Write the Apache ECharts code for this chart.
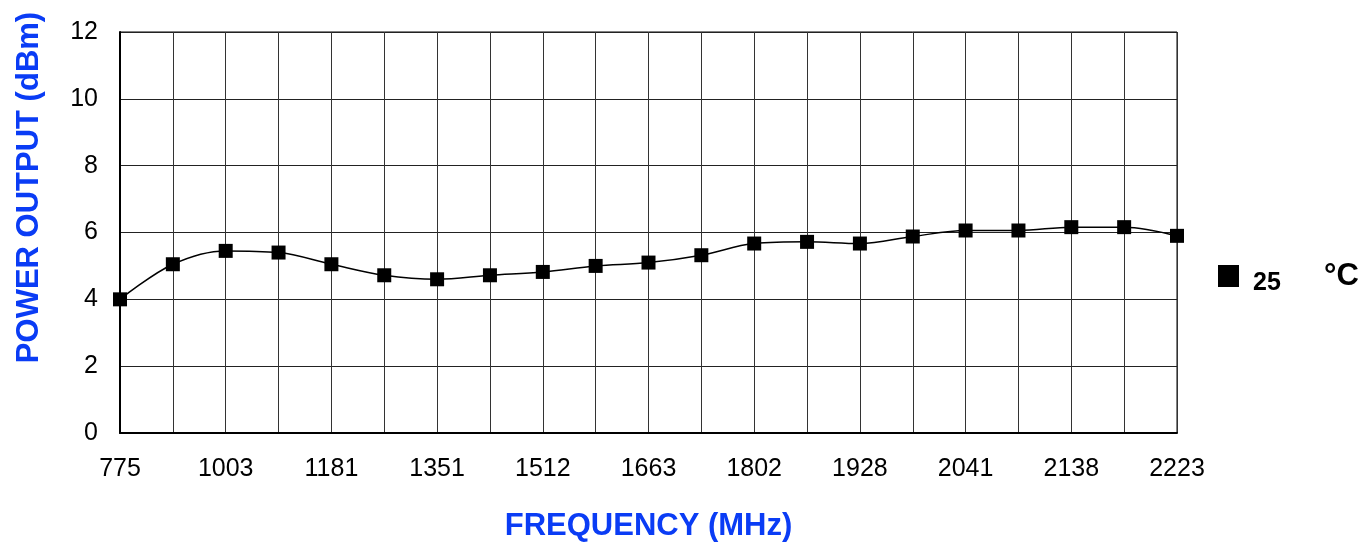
<!DOCTYPE html>
<html>
<head>
<meta charset="utf-8">
<script src="https://cdn.jsdelivr.net/npm/echarts@6/dist/echarts.min.js"></script>
<style>html,body{margin:0;padding:0;background:#fff;}#c{width:1366px;height:548px;}</style>
</head>
<body>
<div id="c"></div>
<script>
const categories = ['775','889','1003','1092','1181','1266','1351','1431','1512','1588','1663','1733','1802','1865','1928','1985','2041','2090','2138','2181','2223'];
const power25 = [4.0,5.05,5.45,5.4,5.05,4.72,4.6,4.72,4.82,5.0,5.1,5.32,5.67,5.72,5.67,5.88,6.06,6.06,6.16,6.16,5.9];
const yTicks = {min:0, max:12, interval:2};
const seriesName = '25';
const unitText = '°C';
const xName = 'FREQUENCY (MHz)';
const yName = 'POWER OUTPUT (dBm)';

const blue = '#0a3cf5';
const ff = 'Liberation Sans, Arial, sans-serif';
const chart = echarts.init(document.getElementById('c'));
chart.setOption({
  animation:false,
  backgroundColor:'#fff',
  grid:{left:120, right:189, top:32, bottom:115, show:true, borderColor:'#000', borderWidth:1, containLabel:false},
  legend:{
    data:[{name:seriesName, icon:'rect'}],
    left:1213, top:260, orient:'vertical',
    itemWidth:21, itemHeight:22, itemGap:0,
    formatter:function(n){return '{t|' + n + '}';},
    textStyle:{fontFamily:ff, fontWeight:'bold', fontSize:25, color:'#000', padding:[0,0,0,9],
      rich:{t:{fontFamily:ff, fontWeight:'bold', fontSize:25, color:'#000', lineHeight:40, verticalAlign:'bottom'}}}
  },
  graphic:[{type:'text', left:1324, top:261, style:{text:unitText, font:'bold 31px "Liberation Sans", Arial, sans-serif', fill:'#000'}}],
  xAxis:{
    type:'category', data:categories, boundaryGap:false,
    name:xName, nameLocation:'middle', nameGap:78,
    nameTextStyle:{color:blue, fontFamily:ff, fontWeight:'bold', fontSize:31},
    axisLine:{lineStyle:{color:'#000', width:2}},
    axisTick:{show:false},
    axisLabel:{interval:1, margin:24, color:'#000', fontFamily:ff, fontSize:25},
    splitLine:{show:true, interval:0, lineStyle:{color:'#333', width:1}}
  },
  yAxis:{
    type:'value', min:yTicks.min, max:yTicks.max, interval:yTicks.interval,
    name:yName, nameLocation:'middle', nameGap:75,
    nameTextStyle:{color:blue, fontFamily:ff, fontWeight:'bold', fontSize:31, padding:[0,0,0,90]},
    axisLine:{show:true, lineStyle:{color:'#000', width:2}},
    axisTick:{show:false},
    axisLabel:{margin:22, color:'#000', fontFamily:ff, fontSize:25},
    splitLine:{show:true, lineStyle:{color:'#222', width:1}}
  },
  series:[{
    name:seriesName, type:'line', data:power25, smooth:0.35,
    symbol:'rect', symbolSize:14,
    itemStyle:{color:'#000'},
    lineStyle:{color:'#000', width:1.5}
  }]
});
</script>
</body>
</html>
